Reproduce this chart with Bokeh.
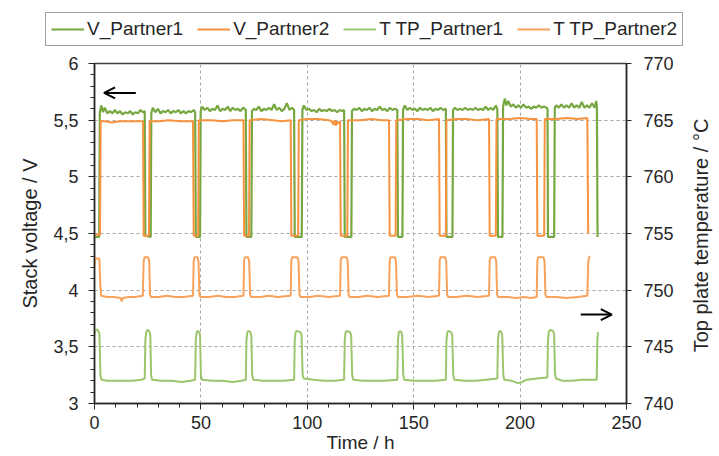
import math
from bokeh.plotting import figure
from bokeh.layouts import column, row
from bokeh.models import (Range1d, LinearAxis, SingleIntervalTicker, CustomJSTickFormatter,
                          Legend, LegendItem, Arrow, OpenHead, Label)
from bokeh.embed import file_html
from bokeh.resources import INLINE

# ---------------- data ----------------
# V_Partner1 (stack voltage, V)
v1_t = [0, 2.2, 2.5, 3.2, 4.0, 4.8, 6.0, 7.2, 8.5, 9.6, 10.8, 12.0, 13.2, 14.4, 15.6, 16.8, 18.0, 19.2, 20.4, 21.6, 22.8, 23.6, 23.9, 26.4,
        26.7, 27.4, 28.6, 29.8, 31.0, 32.2, 33.4, 34.6, 35.8, 37.0, 38.2, 39.4, 40.6, 41.8, 43.0, 44.2, 45.4, 46.6, 47.3, 47.6, 49.6,
        49.9, 50.6, 51.8, 53.0, 54.2, 55.4, 56.6, 57.8, 59.0, 60.2, 61.4, 62.6, 63.8, 65.0, 66.2, 67.4, 68.6, 69.8, 71.1, 71.4, 73.7,
        74.0, 74.8, 76.0, 77.2, 78.4, 79.6, 80.8, 82.0, 83.2, 84.4, 85.6, 86.8, 88.0, 89.2, 90.4, 91.6, 92.8, 93.8, 94.1, 97.4,
        97.7, 98.4, 99.6, 100.8, 102.0, 103.2, 104.4, 105.6, 106.8, 108.0, 109.2, 110.4, 111.6, 112.8, 114.0, 115.2, 116.4, 117.3, 117.6, 120.7,
        121.0, 122.0, 123.2, 124.4, 125.6, 126.8, 128.0, 129.2, 130.4, 131.6, 132.8, 134.0, 135.2, 136.4, 137.6, 138.8, 140.0, 141.2, 142.3, 142.6, 144.7,
        145.0, 145.8, 147.0, 148.2, 149.4, 150.6, 151.8, 153.0, 154.2, 155.4, 156.6, 157.8, 159.0, 160.2, 161.4, 162.6, 163.8, 165.1, 165.4, 168.2,
        168.5, 169.4, 170.6, 171.8, 173.0, 174.2, 175.4, 176.6, 177.8, 179.0, 180.2, 181.4, 182.6, 183.8, 185.0, 186.2, 187.4, 188.6, 189.3, 189.6, 191.7,
        192.0, 192.8, 193.6, 194.4, 195.6, 196.8, 198.0, 199.2, 200.4, 201.6, 202.8, 204.0, 205.2, 206.4, 207.6, 208.8, 210.0, 211.2, 212.4, 212.9, 213.1, 216.0,
        216.3, 217.0, 218.2, 219.4, 220.6, 221.8, 223.0, 224.2, 225.4, 226.6, 227.8, 229.0, 230.2, 231.4, 232.6, 233.8, 235.0, 235.8, 236.1, 236.4]
v1_v = [4.47, 4.47,
        5.57, 5.63, 5.57, 5.61, 5.56, 5.58, 5.56, 5.59, 5.56, 5.58, 5.55, 5.57, 5.56, 5.58, 5.55, 5.57, 5.56, 5.59, 5.57, 5.58, 4.48, 4.47,
        5.56, 5.61, 5.57, 5.60, 5.56, 5.58, 5.57, 5.59, 5.56, 5.58, 5.57, 5.59, 5.56, 5.58, 5.56, 5.58, 5.57, 5.59, 5.57, 4.47, 4.47,
        5.58, 5.62, 5.59, 5.61, 5.58, 5.60, 5.59, 5.63, 5.58, 5.60, 5.59, 5.62, 5.58, 5.61, 5.59, 5.60, 5.58, 5.61, 5.59, 4.47, 4.47,
        5.58, 5.60, 5.59, 5.62, 5.58, 5.60, 5.59, 5.61, 5.59, 5.64, 5.59, 5.61, 5.58, 5.60, 5.65, 5.59, 5.61, 5.59, 4.47, 4.47,
        5.59, 5.63, 5.59, 5.60, 5.58, 5.59, 5.57, 5.60, 5.58, 5.59, 5.58, 5.60, 5.58, 5.59, 5.57, 5.59, 5.58, 5.59, 4.47, 4.47,
        5.58, 5.60, 5.59, 5.61, 5.58, 5.60, 5.59, 5.61, 5.58, 5.60, 5.59, 5.62, 5.59, 5.60, 5.58, 5.61, 5.59, 5.60, 5.59, 4.47, 4.47,
        5.59, 5.63, 5.59, 5.61, 5.59, 5.60, 5.58, 5.61, 5.59, 5.60, 5.59, 5.61, 5.58, 5.60, 5.59, 5.61, 5.59, 5.60, 4.47, 4.47,
        5.59, 5.61, 5.59, 5.60, 5.59, 5.61, 5.59, 5.60, 5.59, 5.61, 5.59, 5.60, 5.59, 5.62, 5.59, 5.61, 5.59, 5.63, 5.60, 4.47, 4.47,
        5.62, 5.69, 5.63, 5.67, 5.62, 5.64, 5.61, 5.63, 5.61, 5.64, 5.61, 5.62, 5.60, 5.62, 5.61, 5.63, 5.61, 5.62, 5.61, 5.60, 4.47, 4.47,
        5.61, 5.63, 5.61, 5.64, 5.61, 5.63, 5.61, 5.65, 5.61, 5.63, 5.61, 5.66, 5.61, 5.63, 5.61, 5.65, 5.61, 5.67, 5.60, 4.47]

# V_Partner2 (stack voltage, V)
v2_t = [0, 2.6, 2.9, 5, 8, 12, 16, 20, 22.8, 23.1, 25.6,
        25.9, 30, 35, 40, 46.3, 46.6, 48.7,
        49.0, 55, 60, 65, 70.0, 70.3, 72.6,
        72.9, 78, 84, 88, 92.2, 92.5, 95.7,
        96.0, 100, 105, 110, 111.5, 112.3, 112.8, 113.4, 114.0, 114.5, 115.4, 115.7, 118.8,
        119.1, 125, 130, 135, 138.4, 138.7, 141.5,
        141.8, 147, 152, 157, 161.9, 162.2, 165.1,
        165.4, 170, 175, 180, 185.4, 185.7, 188.6,
        188.9, 195, 200, 205, 207.8, 208.1, 211.3,
        211.6, 217, 222, 227, 231.6, 232.0]
v2_v = [4.49, 4.49, 5.49, 5.49, 5.48, 5.49, 5.49, 5.49, 5.49, 4.48, 4.48,
        5.49, 5.49, 5.50, 5.49, 5.49, 4.48, 4.48,
        5.50, 5.50, 5.49, 5.50, 5.50, 4.48, 4.48,
        5.50, 5.51, 5.50, 5.49, 5.50, 4.48, 4.48,
        5.50, 5.51, 5.51, 5.50, 5.49, 5.46, 5.50, 5.45, 5.49, 5.47, 5.49, 4.48, 4.48,
        5.50, 5.50, 5.51, 5.50, 5.50, 4.48, 4.48,
        5.50, 5.51, 5.51, 5.50, 5.51, 4.48, 4.48,
        5.50, 5.51, 5.51, 5.50, 5.51, 4.48, 4.48,
        5.51, 5.51, 5.52, 5.51, 5.51, 4.48, 4.48,
        5.51, 5.51, 5.52, 5.51, 5.52, 4.50]

# T TP_Partner1 (top plate temperature, °C)
t1_t = [0, 0.5, 1.5, 2.3, 2.8, 3.3, 6, 10, 14, 18, 22, 23.6,
        23.9, 24.3, 24.8, 25.6, 26.2, 26.6, 27.1, 31, 36, 41, 45, 47.3,
        47.6, 48.0, 48.5, 49.2, 49.6, 50.0, 50.5, 55, 60, 65, 69, 71.1,
        71.4, 71.8, 72.3, 73.2, 73.7, 74.1, 74.6, 79, 84, 89, 93.8,
        94.1, 94.5, 95.0, 96.8, 97.3, 97.8, 98.3, 103, 108, 113, 117.3,
        117.6, 118.0, 118.5, 120.1, 120.6, 121.1, 121.6, 126, 131, 136, 142.3,
        142.6, 143.0, 143.5, 144.2, 144.6, 145.1, 145.6, 150, 155, 160, 165.1,
        165.4, 165.8, 166.3, 167.6, 168.1, 168.6, 169.1, 174, 179, 184, 189.3,
        189.6, 190.0, 190.5, 191.2, 191.6, 192.1, 192.6, 196, 199, 201, 203, 208, 212.8,
        213.1, 213.5, 214.0, 215.5, 216.0, 216.4, 216.9, 220, 224, 229, 236.0,
        236.3, 236.6]
t1_v = [746.1, 746.5, 746.5, 746.2, 742.5, 742.1, 742.0, 742.0, 742.0, 742.0, 742.1, 742.2,
        745.6, 746.3, 746.5, 746.4, 746.1, 742.5, 742.1, 742.0, 742.0, 741.9, 742.0, 742.1,
        745.6, 746.3, 746.4, 746.3, 746.0, 742.5, 742.1, 742.0, 742.0, 741.9, 742.0, 742.1,
        745.6, 746.3, 746.4, 746.3, 746.0, 742.5, 742.1, 742.0, 742.0, 742.0, 742.1,
        745.6, 746.3, 746.4, 746.3, 746.0, 742.5, 742.2, 742.1, 742.0, 742.0, 742.1,
        745.6, 746.3, 746.4, 746.3, 746.0, 742.5, 742.1, 742.0, 742.0, 742.0, 742.1,
        745.6, 746.3, 746.4, 746.3, 746.0, 742.5, 742.1, 742.0, 742.0, 742.0, 742.1,
        745.6, 746.3, 746.4, 746.3, 746.0, 742.5, 742.1, 742.0, 742.0, 742.1, 742.2,
        745.6, 746.3, 746.4, 746.3, 746.0, 742.5, 742.1, 742.0, 741.8, 741.9, 742.1, 742.2, 742.3,
        745.6, 746.3, 746.5, 746.4, 746.1, 742.6, 742.2, 742.0, 742.0, 742.1, 742.1,
        745.5, 746.3]

# T TP_Partner2 (top plate temperature, °C)
t2_t = [0, 0.4, 2.3, 2.7, 3.1, 6, 9, 12.3, 12.8, 13.3, 16, 19, 22.7,
        23.1, 23.5, 25.2, 25.7, 26.1, 26.6, 30, 34, 38, 42, 46.3,
        46.6, 47.0, 48.4, 48.9, 49.3, 49.8, 54, 58, 62, 66, 70.0,
        70.3, 70.7, 72.2, 72.7, 73.1, 73.6, 78, 82, 86, 92.2,
        92.5, 92.9, 95.4, 95.9, 96.3, 96.8, 101, 105, 110, 115.4,
        115.7, 116.1, 118.5, 119.0, 119.4, 119.9, 124, 128, 133, 138.4,
        138.7, 139.1, 141.2, 141.7, 142.1, 142.6, 147, 152, 157, 161.9,
        162.2, 162.6, 164.8, 165.3, 165.7, 166.2, 170, 175, 180, 185.4,
        185.7, 186.1, 188.3, 188.8, 189.2, 189.7, 194, 198, 202, 205, 207.8,
        208.1, 208.5, 211.0, 211.5, 211.9, 212.4, 217, 222, 227, 231.6,
        232.0, 232.4, 232.8]
t2_v = [752.1, 752.8, 752.8, 750.5, 749.5, 749.4, 749.4, 749.3, 749.0, 749.3, 749.4, 749.4, 749.5,
        752.5, 752.9, 752.9, 752.6, 749.6, 749.4, 749.4, 749.5, 749.4, 749.4, 749.5,
        752.5, 752.9, 752.9, 752.5, 749.6, 749.4, 749.4, 749.5, 749.4, 749.4, 749.5,
        752.6, 752.9, 752.9, 752.5, 749.6, 749.4, 749.4, 749.5, 749.4, 749.5,
        752.6, 752.9, 752.9, 752.5, 749.6, 749.4, 749.4, 749.5, 749.4, 749.5,
        752.6, 752.9, 752.9, 752.5, 749.6, 749.4, 749.4, 749.5, 749.4, 749.5,
        752.6, 752.9, 752.9, 752.5, 749.6, 749.4, 749.4, 749.5, 749.4, 749.5,
        752.6, 752.9, 752.9, 752.5, 749.6, 749.4, 749.4, 749.5, 749.4, 749.5,
        752.6, 752.9, 752.9, 752.5, 749.6, 749.4, 749.4, 749.3, 749.4, 749.3, 749.4,
        752.6, 752.9, 752.9, 752.5, 749.6, 749.4, 749.4, 749.3, 749.4, 749.5,
        752.4, 752.9, 753.0]

series_names = ["V_Partner1", "V_Partner2", "T TP_Partner1", "T TP_Partner2"]
x_label = "Time / h"
y_label = "Stack voltage / V"
y2_label = "Top plate temperature / °C"

# arrow annotation positions (axis indicators)
left_arrow = dict(x0=19.4, x1=4.5, y=5.74)
right_arrow = dict(x0=228.5, x1=243.1, y=747.85)

# ---------------- styling ----------------
FONT = "Liberation Sans"
C_V1 = "#77a741"
C_V2 = "#f7923f"
C_T1 = "#9cc56c"
C_T2 = "#f9a25c"
TXT = "#262626"
colors = [C_V1, C_V2, C_T1, C_T2]

TOP_H = 50          # height of the legend strip
MAIN_W = 676
MAIN_H = 405
LAB_W = 40
BORDER_TOP = 13

# ---------- main chart ----------
p = figure(frame_width=532, frame_height=340,
           x_range=Range1d(0, 250), y_range=Range1d(3, 6),
           output_backend="svg", toolbar_location=None,
           min_border_left=94, min_border_right=MAIN_W - 94 - 532,
           min_border_top=BORDER_TOP, min_border_bottom=MAIN_H - BORDER_TOP - 340,
           background_fill_color="white", border_fill_color="white")
p.extra_y_ranges = {"temp": Range1d(740, 770)}
p.outline_line_color = "#404040"
p.outline_line_width = 1.5

comma_fmt = CustomJSTickFormatter(code="return String(tick).replace('.', ',');")

xa = p.xaxis[0]
xa.ticker = SingleIntervalTicker(interval=50, num_minor_ticks=5)
xa.axis_label = x_label
ya = p.yaxis[0]
ya.ticker = SingleIntervalTicker(interval=0.5, num_minor_ticks=5)
ya.formatter = comma_fmt
ya.axis_label = y_label
ra = LinearAxis(y_range_name="temp",
                ticker=SingleIntervalTicker(interval=5, num_minor_ticks=0))
p.add_layout(ra, "right")

for ax in (xa, ya, ra):
    ax.axis_line_color = "#262626"
    ax.axis_line_width = 1.5
    ax.major_tick_line_color = "#262626"
    ax.minor_tick_line_color = "#262626"
    ax.major_tick_in = 0
    ax.major_tick_out = 6
    ax.minor_tick_in = 0
    ax.minor_tick_out = 4
    ax.major_label_text_font = FONT
    ax.major_label_text_font_size = "18px"
    ax.major_label_text_color = TXT
    ax.axis_label_text_font = FONT
    ax.axis_label_text_font_size = "19px"
    ax.axis_label_text_font_style = "normal"
    ax.axis_label_text_color = TXT

ya.axis_label_text_font_size = "20px"
xa.major_label_standoff = 6
xa.axis_label_standoff = 0
ya.major_label_standoff = 10
ya.axis_label_standoff = 9
ra.major_label_standoff = 12
ra.major_tick_out = 5

p.xgrid.ticker = xa.ticker
p.ygrid.ticker = ya.ticker
for g in (p.xgrid, p.ygrid):
    g.grid_line_color = "#a6a6a6"
    g.grid_line_dash = "3 3"
    g.grid_line_width = 1

p.line(v1_t, v1_v, line_color=C_V1, line_width=2.2)
p.line(v2_t, v2_v, line_color=C_V2, line_width=2)
p.line(t1_t, t1_v, line_color=C_T1, line_width=2, y_range_name="temp")
p.line(t2_t, t2_v, line_color=C_T2, line_width=2, y_range_name="temp")

p.add_layout(Arrow(end=OpenHead(size=11, line_width=2, line_color="black"),
                   x_start=left_arrow["x0"], y_start=left_arrow["y"],
                   x_end=left_arrow["x1"], y_end=left_arrow["y"],
                   line_width=2, line_color="black"))
p.add_layout(Arrow(end=OpenHead(size=11, line_width=2, line_color="black"),
                   x_start=right_arrow["x0"], y_start=right_arrow["y"],
                   x_end=right_arrow["x1"], y_end=right_arrow["y"],
                   y_range_name="temp", line_width=2, line_color="black"))

# ---------- legend strip (top) ----------
top = figure(width=MAIN_W + LAB_W, height=TOP_H, x_range=Range1d(0, 1), y_range=Range1d(0, 1),
             x_axis_type=None, y_axis_type=None, output_backend="svg", toolbar_location=None,
             min_border=0, outline_line_color=None, border_fill_color="white")
top.grid.visible = False
# legend-only renderers: their single segment lies outside the strip's visible range
dummies = [top.line([5, 6], [5, 6], line_color=c, line_width=2) for c in colors]
legend = Legend(items=[LegendItem(label=n, renderers=[r]) for n, r in zip(series_names, dummies)],
                orientation="horizontal", location=(45, 4), margin=0, padding=5,
                spacing=14, glyph_width=33, glyph_height=20, label_standoff=3,
                label_text_font=FONT, label_text_font_size="19px", label_text_color=TXT,
                border_line_color="#404040", border_line_width=1.5,
                background_fill_color="white", background_fill_alpha=1)
top.add_layout(legend, "center")

# ---------- right axis title strip ----------
lab = figure(width=LAB_W, height=MAIN_H, x_range=Range1d(0, 1), y_range=Range1d(0, 1),
             x_axis_type=None, y_axis_type=None, output_backend="svg", toolbar_location=None,
             min_border=0, outline_line_color=None, border_fill_color="white")
lab.grid.visible = False
lab.add_layout(Label(x=24, y=168, x_units="screen", y_units="screen",
                     text=y2_label, angle=math.pi / 2, text_align="center", text_baseline="middle",
                     text_font=FONT, text_font_size="20px", text_color=TXT))

layout = column(top, row(p, lab))
open("out.html", "w").write(file_html(layout, INLINE))
